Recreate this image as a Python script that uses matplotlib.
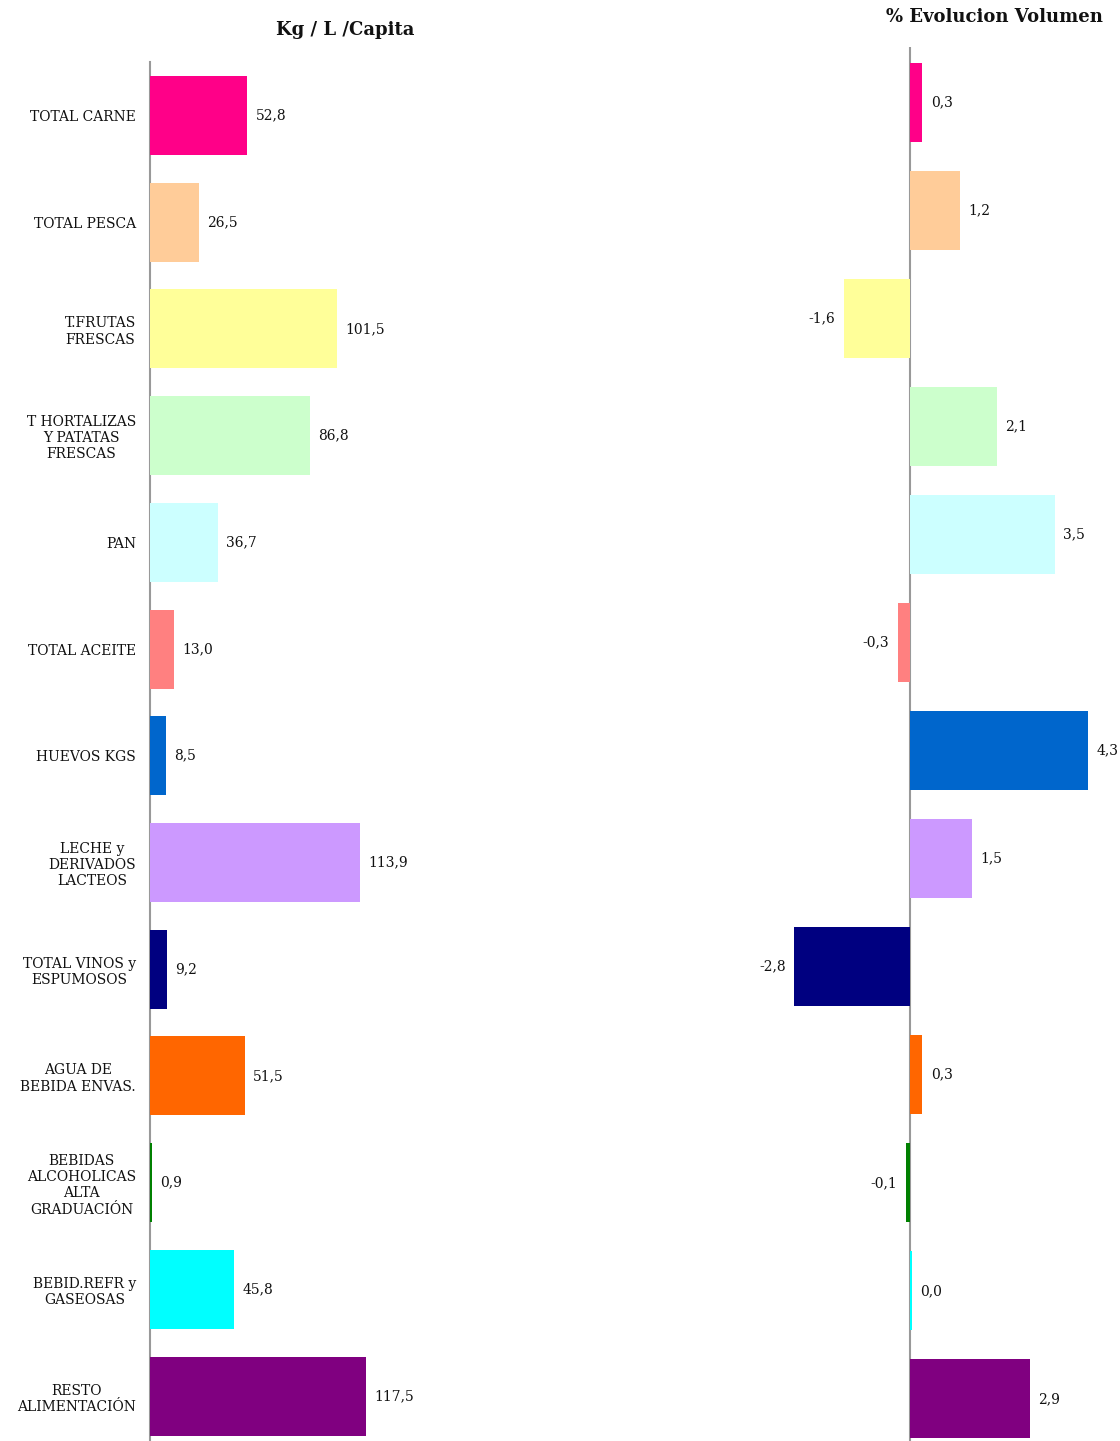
import matplotlib
matplotlib.use("Agg")
import matplotlib.pyplot as plt

categories = ["TOTAL CARNE", "TOTAL PESCA", "T.FRUTAS\nFRESCAS",
              "T HORTALIZAS\nY PATATAS\nFRESCAS", "PAN", "TOTAL ACEITE",
              "HUEVOS KGS", "LECHE y\nDERIVADOS\nLACTEOS",
              "TOTAL VINOS y\nESPUMOSOS", "AGUA DE\nBEBIDA ENVAS.",
              "BEBIDAS\nALCOHOLICAS\nALTA\nGRADUACIÓN",
              "BEBID.REFR y\nGASEOSAS", "RESTO\nALIMENTACIÓN"]
kg_capita = [52.8, 26.5, 101.5, 86.8, 36.7, 13.0, 8.5, 113.9, 9.2, 51.5, 0.9, 45.8, 117.5]
evol_volumen = [0.3, 1.2, -1.6, 2.1, 3.5, -0.3, 4.3, 1.5, -2.8, 0.3, -0.1, 0.04, 2.9]
colors = ["#FF0088", "#FFCC99", "#FFFF99", "#CCFFCC", "#CCFFFF", "#FF8080",
          "#0066CC", "#CC99FF", "#000080", "#FF6600", "#008000", "#00FFFF", "#800080"]
title_left = "Kg / L /Capita"
title_right = "% Evolucion Volumen"

W, H = 1120, 1441
fig = plt.figure(figsize=(W / 100, H / 100), dpi=100)
FONT = "DejaVu Serif"

def fmt(v):
    return f"{v:.1f}".replace(".", ",")

def px_axes(x0, x1, y0, y1):
    return fig.add_axes([x0 / W, 1 - y1 / H, (x1 - x0) / W, (y1 - y0) / H])

n = len(categories)
ypos = list(range(n))

# Left panel
axL = px_axes(150, 460, 62, 1441)
axL.barh(ypos, kg_capita, height=0.74, color=colors, left=0, zorder=3)
axL.set_xlim(0, 310 / 1.84)
axL.set_ylim(n - 1 + 0.42, -0.5)
axL.set_yticks(ypos)
axL.set_yticklabels(categories, family=FONT, fontsize=10, ha="right",
                    multialignment="center", color="#111111")
axL.tick_params(axis="y", length=0, pad=10)
axL.set_xticks([])
for s in ["top", "right", "bottom"]:
    axL.spines[s].set_visible(False)
axL.spines["left"].set_color("#999999")
axL.spines["left"].set_linewidth(1.5)
axL.spines["left"].set_zorder(2)
for i, v in enumerate(kg_capita):
    axL.annotate(fmt(v), (v, i), xytext=(6, 0), textcoords="offset points",
                 ha="left", va="center", family=FONT, fontsize=10, color="#111111")

# Right panel
axR = px_axes(740, 1110, 47, 1441)
scale = 41.4
axR.barh(ypos, evol_volumen, height=0.73, color=colors, left=0, zorder=3)
axR.set_xlim(-(910 - 740) / scale, (1110 - 910) / scale)
axR.set_ylim(n - 1 + 0.39, -0.514)
axR.set_xticks([])
axR.set_yticks([])
for s in ["top", "right", "bottom", "left"]:
    axR.spines[s].set_visible(False)
axR.axvline(0, color="#999999", lw=1.5, zorder=2)
for i, v in enumerate(evol_volumen):
    if v < 0:
        axR.annotate(fmt(v), (v, i), xytext=(-6, 0), textcoords="offset points",
                     ha="right", va="center", family=FONT, fontsize=10, color="#111111")
    else:
        axR.annotate(fmt(v), (v, i), xytext=(6, 0), textcoords="offset points",
                     ha="left", va="center", family=FONT, fontsize=10, color="#111111",
                     clip_on=False)

fig.text(345 / W, 1 - 30 / H, title_left, ha="center", va="center",
         family=FONT, fontweight="bold", fontsize=13, color="#111111")
fig.text(994 / W, 1 - 17 / H, title_right, ha="center", va="center",
         family=FONT, fontweight="bold", fontsize=13, color="#111111")

fig.savefig("out.png", dpi=100)
